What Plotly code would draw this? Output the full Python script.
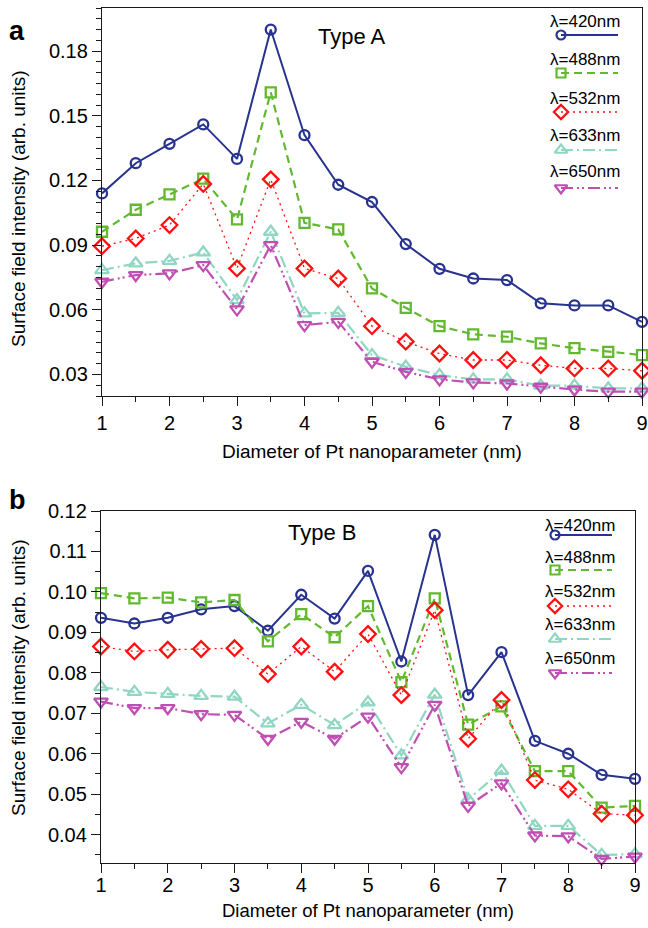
import plotly.graph_objects as go

# ---------------- data ----------------
diameter = [1, 1.5, 2, 2.5, 3, 3.5, 4, 4.5, 5, 5.5, 6, 6.5, 7, 7.5, 8, 8.5, 9]
series_names = ["λ=420nm", "λ=488nm", "λ=532nm", "λ=633nm", "λ=650nm"]

typeA_420 = [0.114, 0.128, 0.137, 0.146, 0.130, 0.190, 0.141, 0.118, 0.110, 0.0905, 0.079, 0.0745, 0.0738, 0.063, 0.062, 0.062, 0.0544]
typeA_488 = [0.0962, 0.1064, 0.1135, 0.1208, 0.1019, 0.1609, 0.1003, 0.0973, 0.0699, 0.0609, 0.0524, 0.0486, 0.0475, 0.0444, 0.0422, 0.0405, 0.039]
typeA_532 = [0.0895, 0.0931, 0.0993, 0.1184, 0.0792, 0.1205, 0.0792, 0.0745, 0.0524, 0.0452, 0.0397, 0.0367, 0.0367, 0.0343, 0.0328, 0.0328, 0.0317]
typeA_633 = [0.0784, 0.0815, 0.0827, 0.0866, 0.0645, 0.0962, 0.0583, 0.0586, 0.039, 0.0336, 0.0297, 0.0277, 0.0277, 0.0248, 0.0248, 0.0235, 0.0235]
typeA_650 = [0.073, 0.0761, 0.0769, 0.0807, 0.0602, 0.090, 0.0529, 0.0544, 0.0359, 0.0312, 0.0277, 0.0263, 0.0258, 0.0243, 0.023, 0.022, 0.022]

typeB_420 = [0.0936, 0.0922, 0.0936, 0.0957, 0.0965, 0.0904, 0.0993, 0.0934, 0.1052, 0.0828, 0.1141, 0.0745, 0.0851, 0.0632, 0.060, 0.0548, 0.0538]
typeB_488 = [0.0997, 0.0984, 0.0986, 0.0974, 0.098, 0.0878, 0.0945, 0.0888, 0.0965, 0.0777, 0.0984, 0.0672, 0.0717, 0.0557, 0.0557, 0.0467, 0.0471]
typeB_532 = [0.0865, 0.0853, 0.0857, 0.0859, 0.0861, 0.0797, 0.0865, 0.0803, 0.0896, 0.0745, 0.0955, 0.0637, 0.0733, 0.0535, 0.0512, 0.0452, 0.0448]
typeB_633 = [0.0765, 0.0753, 0.0748, 0.0743, 0.0741, 0.0675, 0.0721, 0.0671, 0.0727, 0.0596, 0.0746, 0.0487, 0.0558, 0.0422, 0.0422, 0.035, 0.0352]
typeB_650 = [0.0729, 0.0713, 0.0713, 0.0698, 0.0696, 0.0637, 0.0679, 0.0637, 0.0692, 0.0567, 0.0721, 0.0471, 0.0527, 0.0398, 0.0396, 0.034, 0.0346]

yticks_A = [0.03, 0.06, 0.09, 0.12, 0.15, 0.18]
yticks_B = [0.04, 0.05, 0.06, 0.07, 0.08, 0.09, 0.10, 0.11, 0.12]
xticks = [1, 2, 3, 4, 5, 6, 7, 8, 9]

# ---------------- styles ----------------
W, H = 648, 928
styles = [
    dict(color="#27338f", dash="solid", width=2.0, symbol="circle-open", size=10),
    dict(color="#62b92f", dash="8px,5px", width=2.2, symbol="square-open", size=10),
    dict(color="#ff1010", dash="2px,4px", width=1.3, symbol="diamond-open", size=12),
    dict(color="#90d6c2", dash="12px,4px,2px,4px", width=2.2, symbol="triangle-up-open", size=12),
    dict(color="#c04fb4", dash="12px,4px,2px,3px,2px,4px", width=2.2, symbol="triangle-down-open", size=12),
]

fig = go.Figure()

panels = [
    ("x", "y", [typeA_420, typeA_488, typeA_532, typeA_633, typeA_650]),
    ("x2", "y2", [typeB_420, typeB_488, typeB_532, typeB_633, typeB_650]),
]
for xa, ya, data in panels:
    for name, vals, st in zip(series_names, data, styles):
        fig.add_trace(go.Scatter(
            x=diameter, y=vals, name=name, xaxis=xa, yaxis=ya,
            mode="lines+markers", cliponaxis=False, showlegend=False,
            line=dict(color=st["color"], dash=st["dash"], width=st["width"]),
            marker=dict(symbol=st["symbol"], size=st["size"], color=st["color"],
                        line=dict(color=st["color"], width=2.3)),
        ))

# custom legend (text above a line sample), positioned in pixel space
legend_A = dict(text_y=[22, 59, 98, 135, 172], line_y=[35, 73, 112, 150, 188], x0=561, x1=618, text_right=622)
legend_B = dict(text_y=[525, 557, 591, 624, 658], line_y=[535, 570, 606, 639, 673], x0=555, x1=612, text_right=617)

annotations = []
for lg in (legend_A, legend_B):
    for name, st, ty, ly in zip(series_names, styles, lg["text_y"], lg["line_y"]):
        fig.add_trace(go.Scatter(
            x=[lg["x0"], lg["x1"]], y=[ly, ly], xaxis="x3", yaxis="y3",
            mode="lines", showlegend=False, hoverinfo="skip",
            line=dict(color=st["color"], dash=st["dash"], width=st["width"]),
        ))
        fig.add_trace(go.Scatter(
            x=[lg["x0"]], y=[ly], xaxis="x3", yaxis="y3",
            mode="markers", showlegend=False, hoverinfo="skip",
            marker=dict(symbol=st["symbol"], size=st["size"] - 1, color=st["color"],
                        line=dict(color=st["color"], width=2.2)),
        ))
        annotations.append(dict(text=name, x=lg["text_right"] / W, y=1 - ty / H,
                                xref="paper", yref="paper", xanchor="right", yanchor="middle",
                                showarrow=False, font=dict(size=17, color="black")))

font_family = "Liberation Sans, Arial, sans-serif"
axis_common = dict(
    showline=True, linecolor="#1a1a1a", linewidth=1.3, mirror=True,
    ticks="outside", ticklen=9, tickwidth=1.3, tickcolor="#1a1a1a",
    showgrid=False, zeroline=False, automargin=False,
    tickfont=dict(size=20, color="black", family=font_family),
)

xA = (102 / W, 642 / W)
yA = (1 - 396 / H, 1 - 8 / H)
xB = (101 / W, 635 / W)
yB = (1 - 863 / H, 1 - 511 / H)

minor_x = dict(ticks="outside", ticklen=5, tickwidth=1.3, tickcolor="#1a1a1a", dtick=0.5, tick0=1)
minor_y = dict(ticks="outside", ticklen=5, tickwidth=1.3, tickcolor="#1a1a1a", dtick=0.005, tick0=0)

fig.update_layout(
    width=W, height=H,
    margin=dict(l=0, r=0, t=0, b=0, autoexpand=False),
    paper_bgcolor="white", plot_bgcolor="rgba(0,0,0,0)",
    font=dict(family=font_family, color="black"),
    hovermode=False,
    xaxis=dict(axis_common, domain=list(xA), anchor="y", range=[1, 9], tickvals=xticks, minor=minor_x),
    yaxis=dict(axis_common, domain=list(yA), anchor="x", range=[0.02, 0.2], tickvals=yticks_A,
               tickformat=".2f", minor=minor_y),
    xaxis2=dict(axis_common, domain=list(xB), anchor="y2", range=[1, 9], tickvals=xticks, minor=minor_x,
                ticklabelstandoff=-5),
    yaxis2=dict(axis_common, domain=list(yB), anchor="x2", range=[0.033, 0.12], tickvals=yticks_B,
                tickformat=".2f", minor=minor_y),
    xaxis3=dict(domain=[0, 1], range=[0, W], visible=False, anchor="y3", fixedrange=True, automargin=False),
    yaxis3=dict(domain=[0, 1], range=[H, 0], visible=False, anchor="x3", fixedrange=True, automargin=False),
)

text_ann = [
    dict(text="<b>a</b>", x=17 / W, y=1 - 31 / H, font=dict(size=27)),
    dict(text="<b>b</b>", x=17 / W, y=1 - 500 / H, font=dict(size=27)),
    dict(text="Type A", x=352 / W, y=1 - 37 / H, font=dict(size=22)),
    dict(text="Type B", x=322 / W, y=1 - 532 / H, font=dict(size=22)),
    dict(text="Diameter of Pt nanoparameter (nm)", x=372 / W, y=1 - 452 / H, font=dict(size=19)),
    dict(text="Diameter of Pt nanoparameter (nm)", x=368 / W, y=1 - 910 / H, font=dict(size=18.5)),
    dict(text="Surface field intensity (arb. units)", x=18 / W, y=1 - 209 / H, textangle=-90, font=dict(size=19)),
    dict(text="Surface field intensity (arb. units)", x=18 / W, y=1 - 678 / H, textangle=-90, font=dict(size=19)),
]
for a in text_ann:
    a.update(xref="paper", yref="paper", xanchor="center", yanchor="middle", showarrow=False)
    a["font"].update(color="black", family=font_family)
    annotations.append(a)

fig.update_layout(annotations=annotations)
fig.write_html("out.html", config={"displayModeBar": False},
               post_script="document.body.style.margin='0px';")
